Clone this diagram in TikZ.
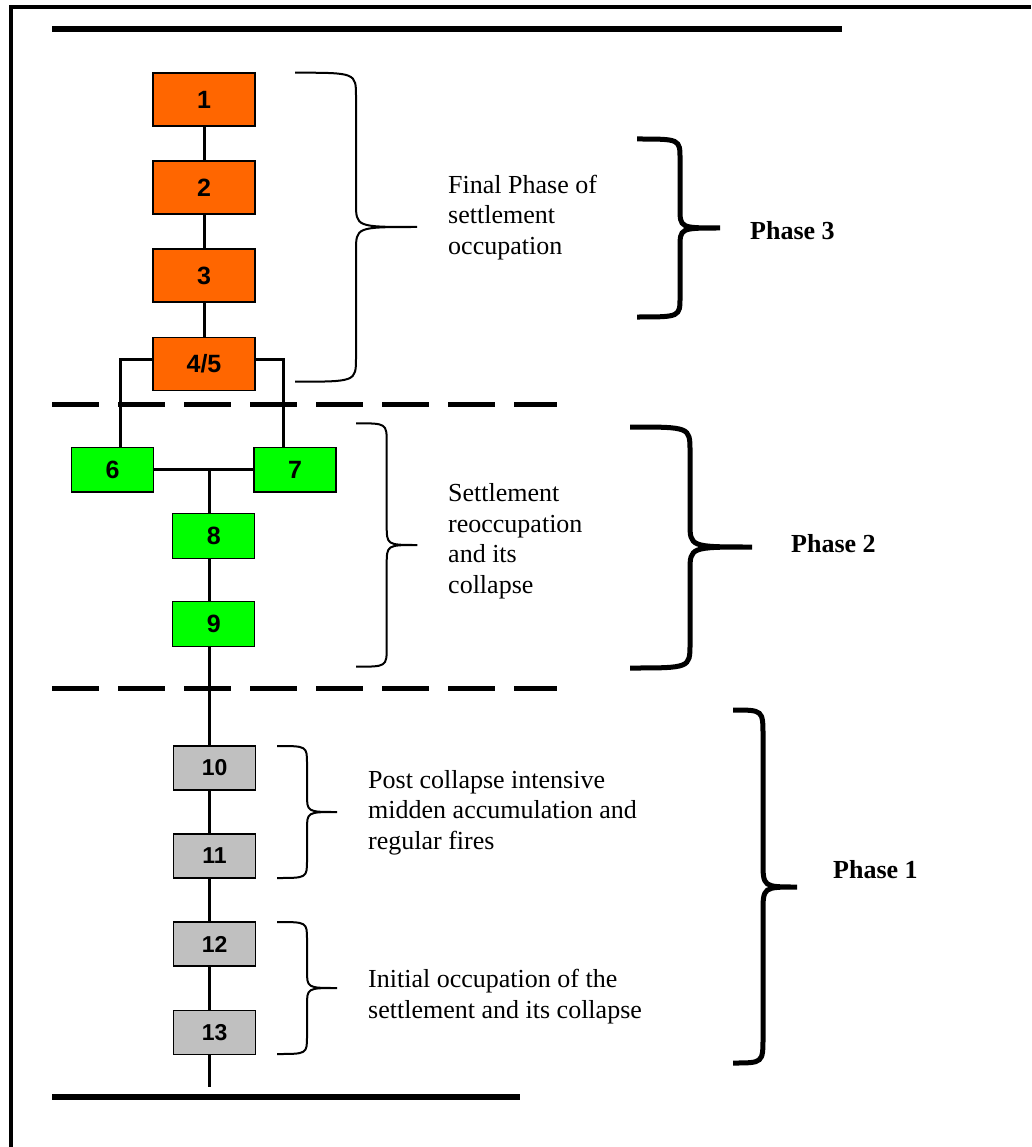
\documentclass[tikz,border=0pt]{standalone}
\usepackage{fontspec}
\setmainfont{Liberation Serif}
\newfontfamily\arialf{Liberation Sans}
\definecolor{orangebox}{HTML}{FF6600}
\definecolor{greenbox}{HTML}{00FF00}
\definecolor{graybox}{HTML}{C0C0C0}
\newcommand\mybrace[8]{%
  \draw[#1] (#2,#3) .. controls (#4,#3) .. (#4,{#3+#8})
    -- (#4,{#6-#8}) .. controls (#4,#6) .. (#5,#6)
    .. controls (#4,#6) .. (#4,{#6+#8})
    -- (#4,{#7-#8}) .. controls (#4,#7) .. (#2,#7);}
\begin{document}
\begin{tikzpicture}[x=1pt,y=-1pt,
  boxst/.style={draw=black,line width=1.3pt,inner sep=0pt,
    font=\arialf\bfseries\fontsize{25}{25}\selectfont},
  obox/.style={boxst,fill=orangebox,minimum width=102pt,minimum height=53pt},
  gbox/.style={boxst,fill=greenbox,minimum width=82pt,minimum height=44.5pt},
  ybox/.style={boxst,fill=graybox,minimum width=82pt,minimum height=44pt,
    font=\arialf\bfseries\fontsize{23}{23}\selectfont},
  conn/.style={line width=3pt},
  rule/.style={line width=6pt},
  dashrule/.style={line width=5pt,dash pattern=on 47pt off 19pt},
  thinbrace/.style={line width=2pt},
  thickbrace/.style={line width=5pt},
  desc/.style={anchor=base west,inner sep=0pt,align=left,
    font=\fontsize{26}{30.7}\selectfont},
  phase/.style={anchor=base west,inner sep=0pt,
    font=\bfseries\fontsize{26}{30}\selectfont}]
\useasboundingbox (0,0) rectangle (1031,1147);
\fill[white] (0,0) rectangle (1031,1147);
% frame (left and top edges visible)
\draw[line width=4pt] (11,1147) -- (11,7) -- (1031,7);
% horizontal rules
\draw[rule] (52,29) -- (842,29);
\draw[rule] (52,1096.7) -- (520,1096.7);
\draw[dashrule] (52,404) -- (557,404);
\draw[dashrule] (52,688.3) -- (557,688.3);
% boxes
\node[obox] (b1) at (204,99.5) {1};
\node[obox] (b2) at (204,187.5) {2};
\node[obox] (b3) at (204,275.5) {3};
\node[obox] (b45) at (204,364) {4/5};
\node[gbox] (b6) at (112.5,469.7) {6};
\node[gbox] (b7) at (295,469.7) {7};
\node[gbox] (b8) at (213.7,536) {8};
\node[gbox] (b9) at (213.7,624) {9};
\node[ybox] (b10) at (214.6,768) {10};
\node[ybox] (b11) at (214.6,856) {11};
\node[ybox] (b12) at (214.6,944) {12};
\node[ybox] (b13) at (214.6,1032.7) {13};
\coordinate (j) at (209,469.7);
\coordinate (endp) at (209,1086.7);
% connectors
\draw[conn] (b1) -- (b2);
\draw[conn] (b2) -- (b3);
\draw[conn] (b3) -- (b45);
\draw[conn] ([yshift=5pt]b45.west) -| ([xshift=7.5pt]b6.north);
\draw[conn] ([yshift=5pt]b45.east) -| ([xshift=-12pt]b7.north);
\draw[conn] (b6) -- (b7);
\draw[conn] (j) -- (j |- b8.north);
\draw[conn] (j |- b8.south) -- (j |- b9.north);
\draw[conn] (j |- b9.south) -- (j |- b10.north);
\draw[conn] (j |- b10.south) -- (j |- b11.north);
\draw[conn] (j |- b11.south) -- (j |- b12.north);
\draw[conn] (j |- b12.south) -- (j |- b13.north);
\draw[conn] (j |- b13.south) -- (endp);
% braces
\mybrace{thinbrace}{295}{72.7}{356}{417}{227}{381.7}{24}
\mybrace{thinbrace}{356}{423.3}{386.7}{417.3}{545}{666.7}{20}
\mybrace{thinbrace}{277}{746}{307}{337}{812}{878}{18}
\mybrace{thinbrace}{277}{922}{307}{337}{988}{1054}{18}
\mybrace{thickbrace}{637}{139}{680}{720}{228}{317}{20}
\mybrace{thickbrace}{630}{427}{690}{752}{547}{668}{24}
\mybrace{thickbrace}{733}{710}{763}{797}{887}{1063}{26}
% texts (anchored at the baseline of their last line)
\node[desc] (t1) at (448,254.5) {Final Phase of\\settlement\\occupation};
\node[desc] (t2) at (448,593.5) {Settlement\\reoccupation\\and its\\collapse};
\node[desc] (t3) at (368,849.5) {Post collapse intensive\\midden accumulation and\\regular fires};
\node[desc] (t4) at (368,1018) {Initial occupation of the\\settlement and its collapse};
\node[phase] (p3) at (750,239.5) {Phase 3};
\node[phase] (p2) at (791,552) {Phase 2};
\node[phase] (p1) at (833,878) {Phase 1};
\end{tikzpicture}
\end{document}
